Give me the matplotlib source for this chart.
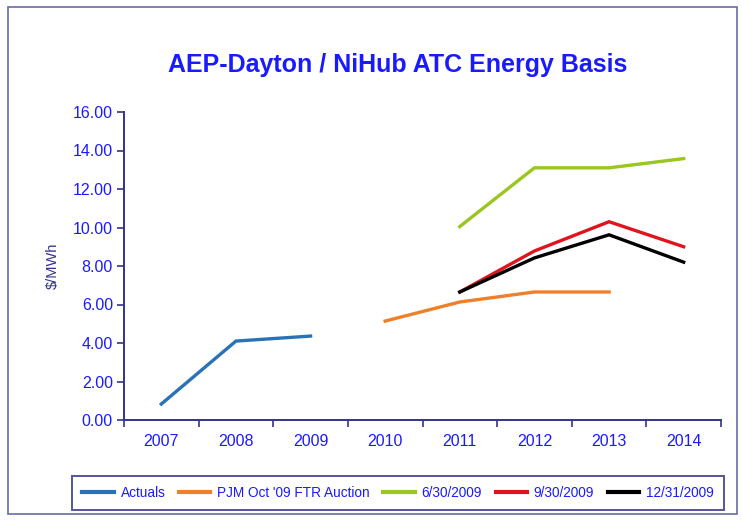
import matplotlib
matplotlib.use("Agg")
import matplotlib.pyplot as plt
import matplotlib.patches as mpatches
import numpy as np

plt.rcParams["font.family"] = ["Liberation Sans", "DejaVu Sans"]

years = ["2007", "2008", "2009", "2010", "2011", "2012", "2013", "2014"]
nan = np.nan
actuals = [0.83, 4.10, 4.36, nan, nan, nan, nan, nan]
pjm_ftr = [nan, nan, nan, 5.14, 6.13, 6.65, 6.65, nan]
fwd_0630 = [nan, nan, nan, nan, 10.05, 13.10, 13.10, 13.58]
fwd_0930 = [nan, nan, nan, nan, 6.65, 8.78, 10.30, 9.00]
fwd_1231 = [nan, nan, nan, nan, 6.65, 8.42, 9.62, 8.20]

series = [
    ("Actuals", actuals, "#2a72b5"),
    ("PJM Oct '09 FTR Auction", pjm_ftr, "#f07f2a"),
    ("6/30/2009", fwd_0630, "#9bc520"),
    ("9/30/2009", fwd_0930, "#e0141e"),
    ("12/31/2009", fwd_1231, "#000000"),
]

blue = "#1a1aff"
navy = "#33338a"

fig = plt.figure(figsize=(7.42, 5.22), dpi=100)
fig.patches.append(mpatches.Rectangle((8 / 742, 8 / 522), 729 / 742, 507 / 522,
                                      transform=fig.transFigure, fill=False,
                                      edgecolor="#6a6aa8", linewidth=1.2))
ax = fig.add_axes([124 / 742, 102 / 522, 597 / 742, 308 / 522])

x = np.arange(len(years))
for label, vals, color in series:
    ax.plot(x, vals, color=color, linewidth=2.4, label=label, solid_joinstyle="miter")

ax.set_xlim(-0.5, len(years) - 0.5)
ax.set_ylim(0, 16)
ax.set_yticks(np.arange(0, 16.1, 2))
ax.set_yticklabels([f"{v:.2f}" for v in np.arange(0, 16.1, 2)])
ax.set_xticks(x)
ax.set_xticklabels(years)
ax.set_xticks(np.arange(-0.5, len(years)), minor=True)
ax.tick_params(axis="x", which="major", length=0, pad=10, labelsize=11.5, labelcolor=blue)
ax.tick_params(axis="x", which="minor", length=5, width=1.2, color=navy, direction="out")
ax.tick_params(axis="y", length=5, width=1.2, color=navy, labelsize=11.5, labelcolor=blue, pad=3)

for side in ["top", "right"]:
    ax.spines[side].set_visible(False)
for side in ["left", "bottom"]:
    ax.spines[side].set_color(navy)
    ax.spines[side].set_linewidth(1.4)

ax.set_ylabel("$/MWh", color=navy, fontsize=10.5, labelpad=9)
fig.text(0.536, 0.875, "AEP-Dayton / NiHub ATC Energy Basis", ha="center", va="center",
         fontsize=18, fontweight="bold", color=blue)

leg = fig.legend(loc="center", bbox_to_anchor=(398 / 742, 1 - 493 / 522), ncol=5,
                 frameon=True, fancybox=False, fontsize=9.8, handlelength=2.3,
                 handletextpad=0.5, columnspacing=1.0, borderpad=0.75, borderaxespad=0)
leg.get_frame().set_edgecolor("#2a2a80")
leg.get_frame().set_linewidth(1.4)
for t in leg.get_texts():
    t.set_color(blue)
for h in leg.legend_handles:
    h.set_linewidth(3)

fig.savefig("out.png", dpi=100)
